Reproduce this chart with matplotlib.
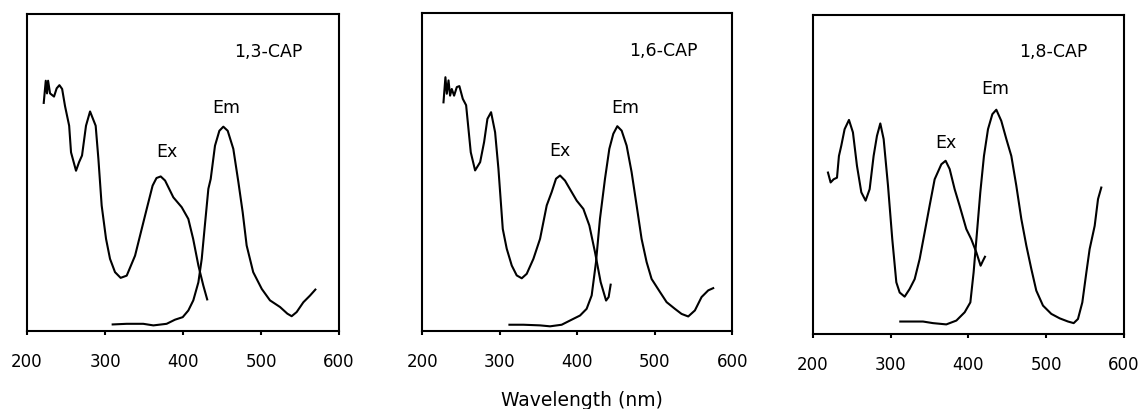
import numpy as np
import matplotlib.pyplot as plt

# panel titles
names = ["1,3-CAP", "1,6-CAP", "1,8-CAP"]

# excitation spectra (wavelength nm, relative intensity)
ex13_x = [221.4, 224, 225.6, 227, 229.5, 234.6, 238, 241.5, 245, 248.7, 254, 256.4, 262.8, 266.7,
          270.5, 275.6, 280.8, 288, 291.5, 295.7, 301.3, 306.4, 312.8, 320, 327.8, 338.5, 347,
          353.4, 361, 366, 371.4, 377, 387.6, 398.3, 406.8, 413, 419.7, 426, 431]
ex13_y = [0.72, 0.79, 0.75, 0.79, 0.75, 0.74, 0.766, 0.776, 0.764, 0.71, 0.648, 0.564, 0.506, 0.533,
          0.554, 0.648, 0.693, 0.648, 0.543, 0.396, 0.291, 0.228, 0.186, 0.168, 0.175, 0.238, 0.322,
          0.385, 0.459, 0.483, 0.488, 0.475, 0.422, 0.391, 0.354, 0.291, 0.207, 0.144, 0.10]
em13_x = [309.8, 327.8, 349, 362, 379, 389.7, 399.6, 406.8, 413.2, 419.7, 424, 428, 432.5, 435.5,
          441, 446.6, 451.7, 457.3, 464.5, 471, 476.5, 481.6, 490, 501, 511.5, 524.4, 533.8, 539.3,
          545.7, 554.3, 562.8, 569.7]
em13_y = [0.021, 0.023, 0.023, 0.018, 0.023, 0.036, 0.044, 0.065, 0.097, 0.154, 0.228, 0.333, 0.449, 0.48,
          0.585, 0.632, 0.645, 0.632, 0.575, 0.47, 0.375, 0.27, 0.186, 0.133, 0.097, 0.076, 0.055, 0.047,
          0.06, 0.091, 0.112, 0.131]

ex16_x = [227.5, 230, 231.8, 234, 236, 238.2, 241.2, 244.7, 248, 252.4, 256.7, 259.3, 262.7, 268.3,
          274.8, 279.9, 284.2, 288.9, 294.1, 298.4, 304, 309.1, 315.6, 322, 328.5, 334.9, 343.5,
          352.1, 360.7, 367.1, 372.7, 377.9, 384.3, 392.9, 399.4, 408, 415.7, 423, 430.3, 437.3,
          440.6, 443.2]
ex16_y = [0.719, 0.798, 0.746, 0.788, 0.74, 0.761, 0.74, 0.767, 0.77, 0.73, 0.71, 0.646, 0.562, 0.505,
          0.531, 0.594, 0.667, 0.688, 0.625, 0.51, 0.321, 0.259, 0.206, 0.175, 0.166, 0.18, 0.227,
          0.29, 0.395, 0.437, 0.479, 0.489, 0.473, 0.437, 0.41, 0.384, 0.332, 0.248, 0.154, 0.096,
          0.107, 0.146]
em16_x = [312.6, 330.6, 352, 365, 380, 393, 403.7, 412.2, 418.7, 424.3, 429.4, 435.9, 441.5, 446.6,
          451.8, 457.4, 463.8, 470.2, 476.7, 483.1, 489.6, 496, 506.8, 515.4, 526.1, 534.7, 543.3,
          551.9, 560.5, 569.1, 575.5]
em16_y = [0.02, 0.02, 0.018, 0.015, 0.02, 0.036, 0.049, 0.07, 0.112, 0.217, 0.353, 0.479, 0.573, 0.62,
          0.644, 0.63, 0.583, 0.5, 0.395, 0.29, 0.217, 0.164, 0.123, 0.091, 0.07, 0.054, 0.046,
          0.065, 0.107, 0.128, 0.135]

ex18_x = [219.3, 222.7, 226.6, 230.9, 233.4, 236.4, 240.7, 246.3, 251.4, 256.6, 262.2, 267.7, 272.9,
          278, 282.3, 286.6, 290.9, 296.5, 302, 307.2, 311.5, 317.9, 324.3, 330.8, 337.2, 343.6,
          350, 356.5, 365.1, 370.6, 375.8, 382.2, 388.6, 397.2, 403.6, 410.1, 415.6, 418.7, 421.2]
ex18_y = [0.506, 0.475, 0.485, 0.49, 0.558, 0.59, 0.642, 0.671, 0.632, 0.527, 0.444, 0.418, 0.454,
          0.558, 0.621, 0.66, 0.611, 0.465, 0.297, 0.162, 0.13, 0.117, 0.141, 0.172, 0.235, 0.318,
          0.402, 0.485, 0.532, 0.543, 0.517, 0.454, 0.402, 0.329, 0.297, 0.256, 0.214, 0.23, 0.242]
em18_x = [312.3, 324.3, 341.5, 354.3, 371.5, 384.4, 395.1, 402.4, 406.6, 410.9, 415.2, 419.9, 425.1,
          430.7, 435.8, 442.2, 448.7, 455.1, 461.5, 468, 474.4, 480.8, 487.2, 495.8, 506.5, 517.3,
          528, 535.3, 540.8, 546.4, 551.6, 555.8, 562.3, 566.6, 570.8]
em18_y = [0.039, 0.039, 0.039, 0.034, 0.03, 0.042, 0.068, 0.099, 0.193, 0.318, 0.444, 0.558, 0.642,
          0.689, 0.703, 0.668, 0.611, 0.558, 0.465, 0.36, 0.277, 0.204, 0.136, 0.089, 0.063, 0.049,
          0.039, 0.034, 0.047, 0.099, 0.193, 0.266, 0.339, 0.423, 0.459]

# label positions (nm, intensity)
name_pos = [(509, 0.885), (511, 0.882), (509, 0.886)]
em_pos = [(456, 0.707), (462, 0.704), (434, 0.771)]
ex_pos = [(379.5, 0.568), (378, 0.569), (370.7, 0.603)]

ex_data = [(ex13_x, ex13_y), (ex16_x, ex16_y), (ex18_x, ex18_y)]
em_data = [(em13_x, em13_y), (em16_x, em16_y), (em18_x, em18_y)]

fig = plt.figure(figsize=(11.41, 4.10), dpi=100)
boxes = [[0.0237, 0.190, 0.2734, 0.773],
         [0.370, 0.190, 0.2717, 0.776],
         [0.7125, 0.183, 0.2726, 0.778]]

for i in range(3):
    ax = fig.add_axes(boxes[i])
    ax.plot(ex_data[i][0], ex_data[i][1], color="black", lw=1.5)
    ax.plot(em_data[i][0], em_data[i][1], color="black", lw=1.5)
    ax.set_xlim(200, 600)
    ax.set_ylim(0, 1)
    ax.set_xticks([200, 300, 400, 500, 600])
    ax.set_yticks([])
    ax.tick_params(axis="x", direction="out", length=3, width=1.5, pad=12, labelsize=12)
    for s in ax.spines.values():
        s.set_linewidth(1.5)
    ax.text(name_pos[i][0], name_pos[i][1], names[i], ha="center", va="center", fontsize=12.5)
    ax.text(em_pos[i][0], em_pos[i][1], "Em", ha="center", va="center", fontsize=12.5)
    ax.text(ex_pos[i][0], ex_pos[i][1], "Ex", ha="center", va="center", fontsize=12.5)

fig.text(0.51, 0.022, "Wavelength (nm)", ha="center", va="center", fontsize=13.5)

fig.savefig("out.png", dpi=100)
